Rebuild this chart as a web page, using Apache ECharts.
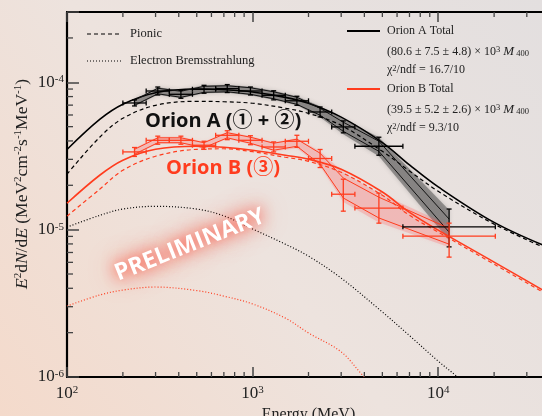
<!DOCTYPE html>
<html>
<head>
<meta charset="utf-8">
<script src="https://cdn.jsdelivr.net/npm/echarts@6/dist/echarts.min.js"></script>
<style>
  html, body { margin: 0; padding: 0; background: #ece3de; }
  #chart { width: 542px; height: 416px; }
</style>
</head>
<body>
<div id="chart"></div>
<script>
// energy bins of the flux points (MeV)
var binLo = [200, 267, 356, 474, 632, 843, 1124, 1500, 2000, 2667, 3556, 6450];
var binHi = [267, 356, 474, 632, 843, 1124, 1500, 2000, 2667, 3556, 6450, 20300];

// Orion A (1+2) flux points, E^2 dN/dE
var fluxA   = [7.24e-5, 8.73e-5, 8.29e-5, 8.97e-5, 9.07e-5, 8.73e-5, 8.16e-5, 7.49e-5, 6.29e-5, 4.98e-5, 3.68e-5, 1.045e-5];
var fluxALo = [6.91e-5, 8.20e-5, 7.79e-5, 8.43e-5, 8.52e-5, 8.20e-5, 7.60e-5, 6.98e-5, 5.82e-5, 4.54e-5, 3.20e-5, 7.64e-6];
var fluxAHi = [7.59e-5, 9.29e-5, 8.82e-5, 9.54e-5, 9.65e-5, 9.29e-5, 8.76e-5, 8.04e-5, 6.80e-5, 5.47e-5, 4.24e-5, 1.38e-5];
var bandAHi = [7.67e-5, 9.25e-5, 8.83e-5, 9.54e-5, 9.62e-5, 9.32e-5, 8.76e-5, 8.04e-5, 6.88e-5, 5.61e-5, 4.24e-5, 1.36e-5];
var bandALo = [6.88e-5, 8.23e-5, 7.79e-5, 8.42e-5, 8.49e-5, 8.16e-5, 7.61e-5, 6.98e-5, 5.79e-5, 4.44e-5, 3.15e-5, 8.49e-6];
var edgeAHi = [7.55e-5, 9.11e-5, 8.69e-5, 9.39e-5, 9.47e-5, 9.18e-5, 8.62e-5, 7.91e-5, 6.66e-5, 5.36e-5, 3.98e-5, 1.18e-5];
var edgeALo = [6.98e-5, 8.36e-5, 7.91e-5, 8.55e-5, 8.62e-5, 8.29e-5, 7.73e-5, 7.09e-5, 5.98e-5, 4.65e-5, 3.40e-5, 9.62e-6];

// Orion B (3) flux points
var fluxB   = [3.37e-5, 4.04e-5, 4.04e-5, 3.74e-5, 4.37e-5, 4.04e-5, 3.64e-5, 3.98e-5, 3.04e-5, 1.74e-5, 1.40e-5, 9.03e-6];
var fluxBLo = [3.14e-5, 3.80e-5, 3.80e-5, 3.51e-5, 4.08e-5, 3.77e-5, 3.37e-5, 3.62e-5, 2.64e-5, 1.335e-5, 1.107e-5, 6.51e-6];
var fluxBHi = [3.61e-5, 4.31e-5, 4.31e-5, 3.98e-5, 4.69e-5, 4.34e-5, 3.94e-5, 4.37e-5, 3.50e-5, 2.20e-5, 1.77e-5, 1.107e-5];
var bandBHi = [3.57e-5, 4.27e-5, 4.27e-5, 3.95e-5, 4.62e-5, 4.30e-5, 3.92e-5, 4.17e-5, 3.40e-5, 2.45e-5, 1.77e-5, 1.07e-5];
var bandBLo = [3.20e-5, 3.83e-5, 3.83e-5, 3.54e-5, 4.14e-5, 3.80e-5, 3.40e-5, 3.57e-5, 2.69e-5, 1.54e-5, 1.12e-5, 7.61e-6];
var edgeBHi = [3.51e-5, 4.20e-5, 4.20e-5, 3.89e-5, 4.55e-5, 4.24e-5, 3.86e-5, 4.11e-5, 3.30e-5, 2.24e-5, 1.66e-5, 1.02e-5];
var edgeBLo = [3.25e-5, 3.89e-5, 3.89e-5, 3.60e-5, 4.20e-5, 3.86e-5, 3.46e-5, 3.68e-5, 2.78e-5, 1.64e-5, 1.20e-5, 7.97e-6];

// model curves
var modelE = [100, 150, 200, 300, 500, 700, 1000, 1500, 2000, 3000, 5000, 7000, 10000, 20000, 40000];
var totalA = [3.5e-5, 5.6e-5, 7.1e-5, 8.5e-5, 9.0e-5, 8.9e-5, 8.6e-5, 7.9e-5, 7.2e-5, 5.8e-5, 3.9e-5, 2.75e-5, 1.95e-5, 1.12e-5, 7.5e-6];
var pionA  = [2.38e-5, 4.24e-5, 5.70e-5, 6.98e-5, 7.43e-5, 7.38e-5, 7.21e-5, 6.67e-5, 6.16e-5, 5.1e-5, 3.4e-5, 2.5e-5, 1.82e-5, 1.09e-5, 7.26e-6];
var totalB = [1.51e-5, 2.34e-5, 2.96e-5, 3.51e-5, 3.68e-5, 3.62e-5, 3.46e-5, 3.20e-5, 3.01e-5, 2.57e-5, 1.80e-5, 1.31e-5, 9.92e-6, 6.02e-6, 3.65e-6];
var pionB  = [1.235e-5, 1.88e-5, 2.53e-5, 3.15e-5, 3.51e-5, 3.54e-5, 3.38e-5, 3.10e-5, 2.91e-5, 2.45e-5, 1.71e-5, 1.25e-5, 9.62e-6, 5.83e-6, 3.54e-6];
var bremsAE = [100, 150, 200, 300, 500, 700, 1000, 1500, 2000, 3000, 5000, 7000, 10000, 12700, 15000];
var bremsA  = [1.04e-5, 1.25e-5, 1.38e-5, 1.44e-5, 1.38e-5, 1.24e-5, 1.01e-5, 7.97e-6, 6.61e-6, 4.69e-6, 2.76e-6, 1.91e-6, 1.28e-6, 1.0e-6, 8.2e-7];
var bremsBE = [100, 150, 200, 300, 500, 700, 1000, 1500, 2000, 3000, 4000, 5000];
var bremsB  = [3.03e-6, 3.60e-6, 3.89e-6, 4.08e-6, 3.86e-6, 3.54e-6, 3.13e-6, 2.51e-6, 1.99e-6, 1.48e-6, 1.0e-6, 7.8e-7];

// axis ranges and minor ticks
var xMin = 100, xMax = 40000, yMin = 1e-6, yMax = 3e-4;
var xMinor = [200, 300, 400, 500, 600, 700, 800, 900, 2000, 3000, 4000, 5000, 6000, 7000, 8000, 9000, 20000, 30000];
var yMinor = [2e-6, 3e-6, 4e-6, 5e-6, 6e-6, 7e-6, 8e-6, 9e-6, 2e-5, 3e-5, 4e-5, 5e-5, 6e-5, 7e-5, 8e-5, 9e-5, 2e-4];

var RED = '#ff3c1e';
var SERIF = '"Liberation Serif", "DejaVu Serif", serif';

var binMid = binLo.map(function (lo, i) { return Math.sqrt(lo * binHi[i]); });

function pairs(xs, ys) {
  return xs.map(function (x, i) { return [x, ys[i]]; });
}

function curve(xs, ys, color, type, width) {
  return {
    type: 'line', data: pairs(xs, ys), showSymbol: false, smooth: 0.35,
    lineStyle: { color: color, width: width, type: type }, z: 4, silent: true
  };
}

function edgeLine(ys, color) {
  return {
    type: 'line', data: pairs(binMid, ys), showSymbol: false,
    lineStyle: { color: color, width: 1 }, z: 4, silent: true
  };
}

function band(lo, hi, fill, blur) {
  return {
    type: 'custom', silent: true, z: 2,
    data: [[binMid[0], lo[0]]],
    renderItem: function (params, api) {
      var pts = [];
      for (var i = 0; i < binMid.length; i++) pts.push(api.coord([binMid[i], hi[i]]));
      for (var j = binMid.length - 1; j >= 0; j--) pts.push(api.coord([binMid[j], lo[j]]));
      return { type: 'polygon', shape: { points: pts }, style: { fill: fill, shadowBlur: blur, shadowColor: fill } };
    }
  };
}

function errorBars(vals, lo, hi, color) {
  var data = vals.map(function (v, i) { return [binMid[i], v, binLo[i], binHi[i], lo[i], hi[i]]; });
  return {
    type: 'custom', silent: true, z: 6,
    data: data,
    encode: { x: 0, y: 1 },
    renderItem: function (params, api) {
      var y = api.value(1), xc = api.value(0);
      var l = api.coord([api.value(2), y]), r = api.coord([api.value(3), y]);
      var b = api.coord([xc, api.value(4)]), t = api.coord([xc, api.value(5)]);
      var st = { stroke: color, lineWidth: 1.3 };
      var c = 2.5;
      function seg(x1, y1, x2, y2) {
        return { type: 'line', shape: { x1: x1, y1: y1, x2: x2, y2: y2 }, style: st };
      }
      return {
        type: 'group',
        children: [
          seg(l[0], l[1], r[0], r[1]),
          seg(t[0], t[1], b[0], b[1]),
          seg(l[0], l[1] - c, l[0], l[1] + c),
          seg(r[0], r[1] - c, r[0], r[1] + c),
          seg(t[0] - c, t[1], t[0] + c, t[1]),
          seg(b[0] - c, b[1], b[0] + c, b[1])
        ]
      };
    }
  };
}

function powLabel(v) {
  var p = Math.log10(v), r = Math.round(p);
  if (Math.abs(p - r) > 1e-6) return '';
  return '{b|10}{s|' + r + '}';
}

var labelRich = {
  b: { fontFamily: SERIF, fontSize: 17, color: '#222' },
  s: { fontFamily: SERIF, fontSize: 11, color: '#222', verticalAlign: 'top' }
};

var axisCommon = {
  type: 'log', logBase: 10,
  axisLine: { show: true, lineStyle: { color: '#000', width: 2.2 } },
  axisTick: { show: true, inside: true, length: 10, lineStyle: { color: '#444', width: 1.5 } },
  splitLine: { show: false },
  minorTick: { show: false }
};

var chart = echarts.init(document.getElementById('chart'));

var series = [
  band(bandALo, bandAHi, 'rgba(75,75,75,0.5)', 4),
  band(bandBLo, bandBHi, 'rgba(255,90,90,0.25)', 4),
  curve(modelE, totalA, '#000', 'solid', 1.6),
  curve(modelE, pionA, '#000', [4, 3], 1.2),
  curve(bremsAE, bremsA, '#000', [1, 2], 1.2),
  curve(modelE, totalB, RED, 'solid', 1.6),
  curve(modelE, pionB, RED, [4, 3], 1.2),
  curve(bremsBE, bremsB, RED, [1, 2], 1.2),
  edgeLine(edgeAHi, '#111'),
  edgeLine(edgeALo, '#111'),
  edgeLine(edgeBHi, RED),
  edgeLine(edgeBLo, RED),
  errorBars(fluxA, fluxALo, fluxAHi, '#000'),
  errorBars(fluxB, fluxBLo, fluxBHi, RED),
  {
    // minor ticks on bottom and top
    type: 'custom', silent: true, z: 8, clip: false,
    data: xMinor.map(function (v) { return [v, yMin]; }),
    renderItem: function (params, api) {
      var b = api.coord([api.value(0), yMin]);
      var t = api.coord([api.value(0), yMax]);
      var st = { stroke: '#444', lineWidth: 1.3 };
      return {
        type: 'group', children: [
          { type: 'line', shape: { x1: b[0], y1: b[1], x2: b[0], y2: b[1] - 5 }, style: st },
          { type: 'line', shape: { x1: t[0], y1: t[1], x2: t[0], y2: t[1] + 5 }, style: st }
        ]
      };
    }
  },
  {
    // minor ticks on the left
    type: 'custom', silent: true, z: 8, clip: false,
    data: yMinor.map(function (v) { return [xMin, v]; }),
    renderItem: function (params, api) {
      var p = api.coord([xMin, api.value(1)]);
      return { type: 'line', shape: { x1: p[0], y1: p[1], x2: p[0] + 6, y2: p[1] }, style: { stroke: '#444', lineWidth: 1.3 } };
    }
  }
];

var legendRich = {
  sup: { fontFamily: SERIF, fontSize: 8.5, fill: '#222', verticalAlign: 'top' },
  sub: { fontFamily: SERIF, fontSize: 8.5, fill: '#222', verticalAlign: 'bottom', padding: [4, 0, 0, 0] },
  it: { fontFamily: SERIF, fontSize: 13, fontStyle: 'italic', fill: '#222' },
  n: { fontFamily: SERIF, fontSize: 12, fill: '#222' }
};

function legText(x, y, txt, size) {
  return {
    type: 'text', x: x, y: y, silent: true, z: 20,
    style: { text: txt, rich: legendRich, fill: '#222', font: (size || 12) + 'px ' + SERIF, verticalAlign: 'middle' }
  };
}

function legLine(x1, x2, y, color, dash, w) {
  return {
    type: 'line', silent: true, z: 20,
    shape: { x1: x1, y1: y, x2: x2, y2: y },
    style: { stroke: color, lineWidth: w, lineDash: dash }
  };
}

var option = {
  animation: false,
  backgroundColor: {
    type: 'linear', x: 0, y: 1, x2: 1, y2: 0,
    colorStops: [
      { offset: 0, color: '#f4dacb' },
      { offset: 0.45, color: '#ede3de' },
      { offset: 1, color: '#e3dfdf' }
    ]
  },
  grid: { left: 67, top: 12, width: 483, height: 365, containLabel: false, outerBoundsMode: 'none' },
  xAxis: [
    Object.assign({}, axisCommon, {
      position: 'bottom', min: xMin, max: xMax,
      name: 'Energy (MeV)', nameLocation: 'middle', nameGap: 27,
      nameTextStyle: { fontFamily: SERIF, fontSize: 16, color: '#222' },
      axisLabel: { formatter: powLabel, rich: labelRich, margin: 8 }
    }),
    Object.assign({}, axisCommon, {
      position: 'top', min: xMin, max: xMax,
      axisLabel: { show: false }
    })
  ],
  yAxis: Object.assign({}, axisCommon, {
    min: yMin, max: yMax,
    axisTick: { show: true, inside: true, length: 12, lineStyle: { color: '#444', width: 1.5 } },
    axisLabel: { formatter: powLabel, rich: labelRich, margin: 3 }
  }),
  graphic: [
    {
      type: 'text', x: 22, y: 184, rotation: Math.PI / 2, silent: true,
      style: {
        text: '{i|E}{s|2}{n|d}{i|N}{n|/d}{i|E}{n| (MeV}{s|2}{n|cm}{s|-2}{n|s}{s|-1}{n|MeV}{s|-1}{n|)}',
        align: 'center', verticalAlign: 'middle', fill: '#222', font: '17px ' + SERIF,
        rich: {
          i: { fontFamily: SERIF, fontSize: 17.5, fontStyle: 'italic', fill: '#222' },
          n: { fontFamily: SERIF, fontSize: 17.5, fill: '#222' },
          s: { fontFamily: SERIF, fontSize: 11, fill: '#222', verticalAlign: 'top' }
        }
      }
    },
    legLine(87, 122, 34, '#000', [4, 3], 1.1),
    legText(130, 34, 'Pionic', 12.5),
    legLine(87, 122, 61, '#000', [1, 2], 1.1),
    legText(130, 61, 'Electron Bremsstrahlung', 12.5),
    legLine(347, 380, 31, '#000', null, 2),
    legText(387, 31, 'Orion A Total'),
    legText(387, 52, '{n|(80.6 ± 7.5 ± 4.8) × 10}{sup|3}{n| }{it|M}{sub| 400}'),
    legText(387, 70, '{n|χ}{sup|2}{n|/ndf = 16.7/10}'),
    legLine(347, 380, 89, RED, null, 2),
    legText(387, 89, 'Orion B Total'),
    legText(387, 110, '{n|(39.5 ± 5.2 ± 2.6) × 10}{sup|3}{n| }{it|M}{sub| 400}'),
    legText(387, 128, '{n|χ}{sup|2}{n|/ndf = 9.3/10}'),
    {
      type: 'text', x: 145, y: 121, silent: true, z: 20,
      style: { text: 'Orion A (① + ②)', fill: '#111', font: 'bold 20px "Open Sans", "Noto Sans CJK SC", sans-serif', verticalAlign: 'middle' }
    },
    {
      type: 'text', x: 166, y: 168, silent: true, z: 20,
      style: { text: 'Orion B (③)', fill: RED, font: 'bold 20px "Open Sans", "Noto Sans CJK SC", sans-serif', verticalAlign: 'middle' }
    },
    {
      // soft red halo behind the watermark
      type: 'text', x: 190, y: 245, rotation: 0.38, silent: true, z: 19,
      style: {
        text: 'PRELIMINARY', fill: 'rgba(255,110,90,0.55)', font: 'bold 23.5px "Open Sans", sans-serif',
        align: 'center', verticalAlign: 'middle',
        textShadowColor: 'rgba(255,70,50,0.9)', textShadowBlur: 30
      }
    },
    {
      type: 'text', x: 190, y: 245, rotation: 0.38, silent: true, z: 20,
      style: {
        text: 'PRELIMINARY', fill: '#fff', font: 'bold 23.5px "Open Sans", sans-serif',
        align: 'center', verticalAlign: 'middle',
        textShadowColor: 'rgba(255,60,40,0.95)', textShadowBlur: 14
      }
    }
  ],
  series: series
};

chart.setOption(option);
</script>
</body>
</html>
